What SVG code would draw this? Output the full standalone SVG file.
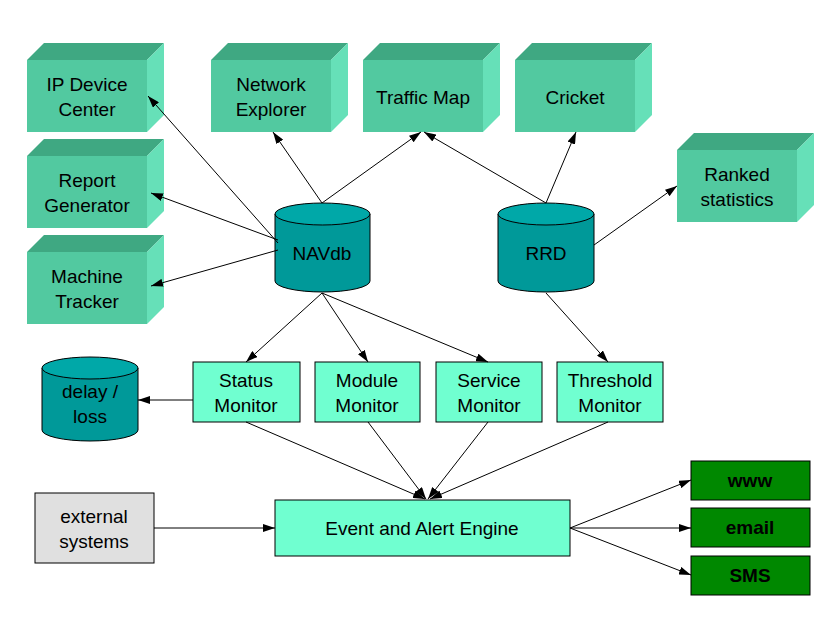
<svg xmlns="http://www.w3.org/2000/svg" width="840" height="630" viewBox="0 0 840 630">
<style>
text{font-family:"Liberation Sans",Arial,sans-serif;font-size:19px;fill:#000;text-anchor:middle}
.f{fill:#52c9a0}.t{fill:#3fa882}.s{fill:#66e0b8}
.cb{fill:#009999;stroke:#000;stroke-width:1}.ct{fill:#00a8a8;stroke:#000;stroke-width:1}
.m{fill:#70ffd0;stroke:#000;stroke-width:1}
.g{fill:#008800;stroke:#000;stroke-width:1}
.gt{font-weight:bold}
.c line{stroke:#000;stroke-width:1;marker-end:url(#a)}
</style>
<defs>
<marker id="a" markerWidth="12" markerHeight="8" refX="12" refY="4" orient="auto" markerUnits="userSpaceOnUse"><path d="M0,0L12,4L0,8z" fill="#000"/></marker>
<g id="box"><polygon class="t" points="0,0 120,0 137,-17 17,-17"/><polygon class="s" points="120,0 137,-17 137,55 120,72"/><rect class="f" width="120" height="72"/></g>
</defs>
<rect width="840" height="630" fill="#fff"/>
<g id="ipdc"><use href="#box" x="27" y="60"/><text x="87" y="91">IP Device</text><text x="87" y="116">Center</text></g>
<g id="report"><use href="#box" x="27" y="156"/><text x="87" y="187">Report</text><text x="87" y="212">Generator</text></g>
<g id="machine"><use href="#box" x="27" y="252"/><text x="87" y="283">Machine</text><text x="87" y="308">Tracker</text></g>
<g id="netexp"><use href="#box" x="211" y="60"/><text x="271" y="91">Network</text><text x="271" y="116">Explorer</text></g>
<g id="traffic"><use href="#box" x="363" y="60"/><text x="423" y="104">Traffic Map</text></g>
<g id="cricket"><use href="#box" x="515" y="60"/><text x="575" y="104">Cricket</text></g>
<g id="ranked"><use href="#box" x="677" y="150"/><text x="737" y="181">Ranked</text><text x="737" y="206">statistics</text></g>
<g id="navdb"><path class="cb" d="M275,214V281A47.5,11 0 0 0 370,281V214"/><ellipse class="ct" cx="322.5" cy="214" rx="47.5" ry="11"/><text x="322" y="260">NAVdb</text></g>
<g id="rrd"><path class="cb" d="M498,214V281A48,11 0 0 0 594,281V214"/><ellipse class="ct" cx="546" cy="214" rx="48" ry="11"/><text x="546" y="260">RRD</text></g>
<g id="delay"><path class="cb" d="M42,368V430A48,11 0 0 0 138,430V368"/><ellipse class="ct" cx="90" cy="368" rx="48" ry="11"/><text x="90" y="398">delay /</text><text x="90" y="423">loss</text></g>
<g id="status"><rect class="m" x="193" y="362" width="107" height="60"/><text x="246" y="387">Status</text><text x="246" y="412">Monitor</text></g>
<g id="module"><rect class="m" x="315" y="362" width="105" height="60"/><text x="367" y="387">Module</text><text x="367" y="412">Monitor</text></g>
<g id="service"><rect class="m" x="436" y="362" width="106" height="60"/><text x="489" y="387">Service</text><text x="489" y="412">Monitor</text></g>
<g id="threshold"><rect class="m" x="557" y="362" width="106" height="60"/><text x="610" y="387">Threshold</text><text x="610" y="412">Monitor</text></g>
<g id="engine"><rect class="m" x="275" y="500" width="295" height="56"/><text x="422" y="535">Event and Alert Engine</text></g>
<g id="external"><rect x="35" y="493" width="119" height="70" fill="#e0e0e0" stroke="#000"/><text x="94" y="523">external</text><text x="94" y="548">systems</text></g>
<g id="www"><rect class="g" x="691" y="461" width="119" height="39"/><text class="gt" x="750" y="487">www</text></g>
<g id="email"><rect class="g" x="691" y="508" width="119" height="39"/><text class="gt" x="750" y="534">email</text></g>
<g id="sms"><rect class="g" x="691" y="556" width="119" height="39"/><text class="gt" x="750" y="582">SMS</text></g>
<g class="c" id="connectors">
<line x1="278" y1="243" x2="148" y2="96"/>
<line x1="278" y1="240" x2="151" y2="193"/>
<line x1="278" y1="250" x2="151" y2="286"/>
<line x1="322" y1="203" x2="273" y2="132"/>
<line x1="322" y1="203" x2="421" y2="132"/>
<line x1="546" y1="203" x2="424" y2="132"/>
<line x1="546" y1="203" x2="576" y2="132"/>
<line x1="594" y1="245" x2="677" y2="186"/>
<line x1="322" y1="293" x2="246" y2="362"/>
<line x1="322" y1="293" x2="368" y2="362"/>
<line x1="322" y1="293" x2="488" y2="362"/>
<line x1="546" y1="293" x2="608" y2="362"/>
<line x1="193" y1="400" x2="138" y2="400"/>
<line x1="246" y1="422" x2="425" y2="499"/>
<line x1="368" y1="422" x2="426" y2="499"/>
<line x1="488" y1="422" x2="428" y2="499"/>
<line x1="608" y1="422" x2="430" y2="499"/>
<line x1="154" y1="528" x2="275" y2="528"/>
<line x1="570" y1="528" x2="691" y2="480"/>
<line x1="570" y1="528" x2="691" y2="528"/>
<line x1="570" y1="528" x2="691" y2="575"/>
</g>
</svg>
